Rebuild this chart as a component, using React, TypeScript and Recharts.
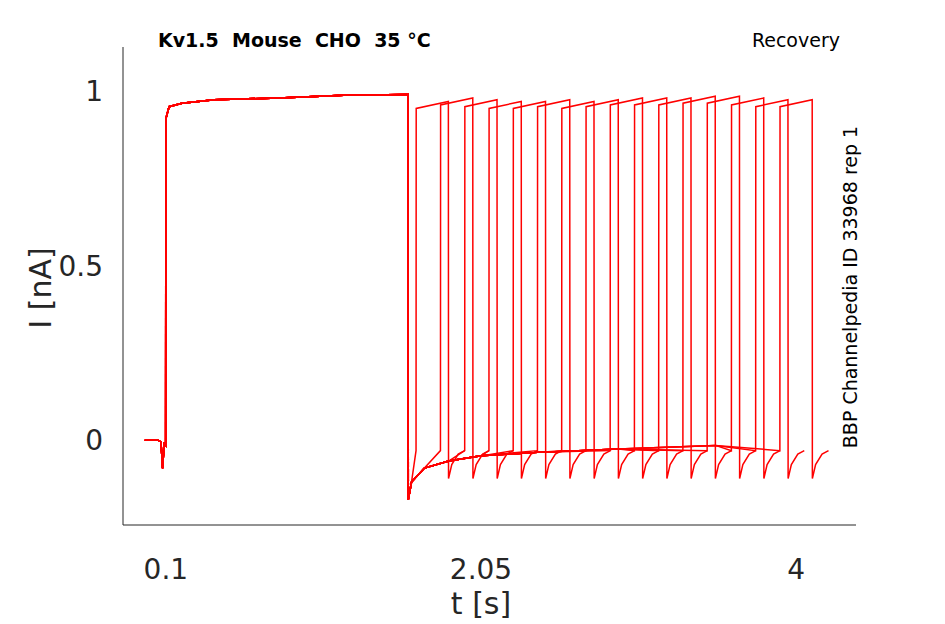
import React from 'react';
import { LineChart, Line, XAxis, YAxis } from 'recharts';

// read values
const riseTimes = [1.649, 1.8, 1.95, 2.1, 2.25, 2.4, 2.55, 2.7, 2.85, 3.0, 3.15, 3.3, 3.45, 3.6, 3.75, 3.9];
const pulseWidth = 0.2;
const firstPulse: [number, number][] = [
  [-0.03, 0], [0.05, 0], [0.07, -0.005], [0.08, -0.08], [0.09, -0.01], [0.099, -0.015],
  [0.1, 0.92], [0.12, 0.955], [0.2, 0.965], [0.4, 0.975], [0.8, 0.98], [1.2, 0.988], [1.599, 0.99],
];
const recovery: [number, number][] = [
  [1.6, -0.17], [1.62, -0.12], [1.7, -0.08], [1.85, -0.06], [2.05, -0.045], [2.4, -0.035], [2.9, -0.025], [3.5, -0.015], [4.0, -0.008],
];
const secondTop = [0.97, 0.98, 0.975, 0.97, 0.97, 0.975, 0.97, 0.975, 0.98, 0.98, 0.98, 0.985, 0.985, 0.98, 0.975, 0.975];
const tail: [number, number][] = [[0, -0.11], [0.02, -0.07], [0.06, -0.04], [0.1, -0.03]];
const xTicks = [0.1, 2.05, 4];
const yTicks = [0, 0.5, 1];

const traces = riseTimes.map((r, i) => {
  const pts = firstPulse.map(([t, v]) => ({ t, v }));
  recovery.filter(([t]) => t < r).forEach(([t, v]) => pts.push({ t, v }));
  pts.push({ t: r - 0.001, v: -0.03 });
  pts.push({ t: r, v: secondTop[i] - 0.02 });
  pts.push({ t: r + pulseWidth - 0.001, v: secondTop[i] });
  tail.forEach(([dt, v]) => pts.push({ t: r + pulseWidth + dt, v }));
  return pts;
});

const axisColor = '#262626';
const font = 'DejaVu Sans, sans-serif';

export default function App() {
  return (
    <div style={{ position: 'absolute', left: 0, top: 0, width: 945, height: 624, background: '#fff' }}>
      <LineChart width={945} height={624} data={traces[0]} margin={{ left: 122, right: 89, top: 47, bottom: 98 }}>
        <XAxis type="number" dataKey="t" domain={[-0.165, 4.37]} ticks={xTicks} allowDataOverflow
          height={1} stroke={axisColor} tickLine={false}
          tick={{ fill: axisColor, fontSize: 28, fontFamily: font, dy: 26 }} tickFormatter={(v) => String(v)} />
        <YAxis type="number" domain={[-0.243, 1.126]} ticks={yTicks} allowDataOverflow width={1} stroke={axisColor} tickLine={false}
          tick={{ fill: axisColor, fontSize: 28, fontFamily: font, dx: -12 }} />
        {traces.map((d, i) => (
          <Line key={i} data={d} dataKey="v" type="linear" stroke="#ff0000" strokeWidth={1.5} dot={false} isAnimationActive={false} />
        ))}
      </LineChart>
      <svg width={945} height={624} style={{ position: 'absolute', left: 0, top: 0, pointerEvents: 'none' }}>
        <text x={158} y={47} fontFamily={font} fontWeight="bold" fontSize={19} style={{ whiteSpace: 'pre' }}>Kv1.5  Mouse  CHO  35 °C</text>
        <text x={840} y={47} fontFamily={font} fontSize={19} textAnchor="end">Recovery</text>
        <text x={481} y={614} fontFamily={font} fontSize={30} fill={axisColor} textAnchor="middle">t [s]</text>
        <text transform="translate(51,288) rotate(-90)" fontFamily={font} fontSize={30} fill={axisColor} textAnchor="middle">I [nA]</text>
        <text transform="translate(857,287) rotate(-90)" fontFamily={font} fontSize={19} textAnchor="middle">BBP Channelpedia ID 33968 rep 1</text>
      </svg>
    </div>
  );
}
